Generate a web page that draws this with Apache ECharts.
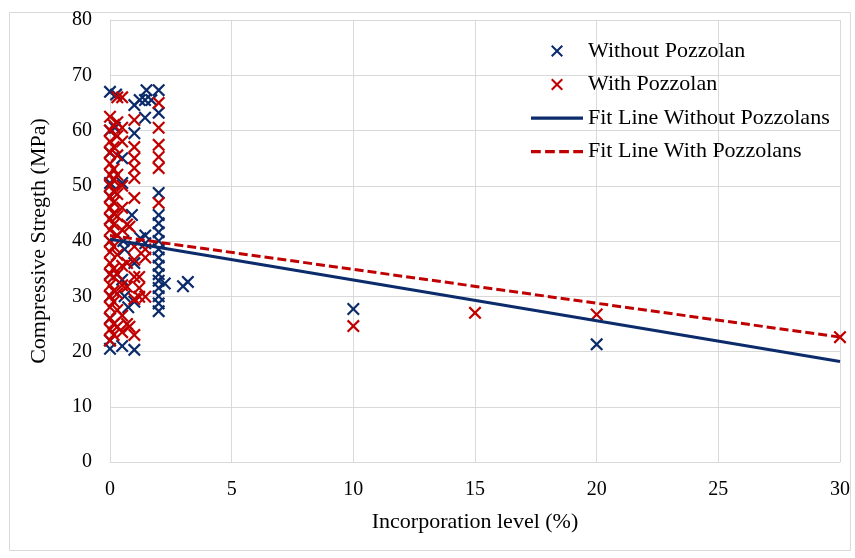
<!DOCTYPE html>
<html>
<head>
<meta charset="utf-8">
<script src="https://cdn.jsdelivr.net/npm/echarts@6/dist/echarts.min.js"></script>
<style>
html,body{margin:0;padding:0;background:#fff;}
#c{width:855px;height:558px;}
</style>
</head>
<body>
<div id="c"></div>
<script>
// Without Pozzolan points
const withoutX = [0,0,0,0,0,0,0,0,0,0,0,0,
  0.25,0.2,
  0.5,0.5,0.55,0.6,0.5,0.6,0.75,0.5,
  0.9,1,1,1,1,1,
  1.22,1.25,1.45,1.45,1.44,1.44,1.5,1.7,
  2,2,2,2,2,2,2,2,2,2,2,2,2,2,2,2,
  2.25,3.0,3.2,
  10,20];
const withoutY = [20.5,22,26,30,34,40,44,48,50.5,56,60,67,
  66.5,60.5,
  55,50.5,40,38.5,33,30,28,21,
  44.7,59.5,64.6,20.3,36,29,
  65.5,40.5,41,39.6,65.5,62.3,67.3,65.5,
  67.3,63.2,48.7,44.7,43.2,41.6,40,38.5,37,35.5,34,32.8,31.5,30,28.7,27.3,
  32.3,31.8,32.6,
  27.7,21.3];

// With Pozzolan points
const withX = [0,0,0,0,0,0,0,0,0,0,0,0,0,0,0,0,0,0,0,0,0,
  0.15,0.15,0.15,0.15,0.15,0.15,0.15,0.15,0.15,0.15,0.15,0.15,0.15,0.15,0.15,
  0.3,0.3,0.3,0.3,0.3,0.3,0.3,0.3,0.3,0.3,0.3,0.3,0.3,
  0.5,0.5,0.5,0.5,0.5,0.5,0.5,0.5,0.5,0.5,
  0.7,0.7,0.7,0.7,
  0.8,0.8,
  1,1,1,1,1,1,1,1,1,1,1,
  1.2,1.2,1.2,
  1.45,1.45,1.45,
  2,2,2,2,2,2,
  10,15,20,30];
const withY = [22,24,26,28,30,32,34,36,38,40,42,44,46,48,50,52,54,56,58,60,62.5,
  23,25,29,31,33.5,35,39,43,45,47,49,51,53,57,61,
  24.5,27.5,30.5,34,37.5,41,44.5,48.5,52,55.5,59,61.5,66,
  23.5,26.5,32,35.5,42,46,50,58,60.5,66,
  25,31.7,36,43,
  24.5,42.6,
  23,29.5,33.5,36.6,39,47.8,51.4,53.2,55,57,61.9,
  29.9,31.5,33.5,
  29.9,37,38.5,
  46.9,53.2,55.2,57.4,60.5,65,
  24.6,27,26.7,22.6];

// Fit lines (end points)
const fitWithoutX = [0, 30];
const fitWithoutY = [40.3, 18.2];
const fitWithX = [0, 30];
const fitWithY = [41.0, 22.6];

const xTicks = {min: 0, max: 30, interval: 5};
const yTicks = {min: 0, max: 80, interval: 10};

const BLUE = '#0b2b6b';
const RED = '#c00000';
const XPATH = 'path://M0,12L12,0L50,38L88,0L100,12L62,50L100,88L88,100L50,62L12,100L0,88L38,50Z';
const SOLID_ICON = 'path://M0,0H48V3H0Z';
const DASH_ICON = 'path://M0,0H9V3H0ZM13,0H22V3H13ZM26,0H35V3H26ZM39,0H48V3H39Z';
const FONT = '"Liberation Serif","Times New Roman",serif';

const zip = (a, b) => a.map((v, i) => [v, b[i]]);

const chart = echarts.init(document.getElementById('c'), null, {renderer: 'canvas'});
chart.setOption({
  animation: false,
  backgroundColor: '#fff',
  textStyle: {fontFamily: FONT},
  graphic: [{
    type: 'rect', left: 7, top: 10, z: -10, silent: true,
    shape: {x: 0, y: 0, width: 841, height: 538},
    style: {fill: 'none', stroke: '#d9d9d9', lineWidth: 1}
  }],
  grid: {left: 110, right: 15, top: 20, bottom: 96, containLabel: false},
  legend: {
    orient: 'vertical',
    left: 526, top: 35,
    itemWidth: 52, itemHeight: 12,
    itemGap: 11.5,
    symbolKeepAspect: true,
    textStyle: {fontFamily: FONT, fontSize: 22, color: '#000', lineHeight: 22},
    data: [
      {name: 'Without Pozzolan', icon: XPATH},
      {name: 'With Pozzolan', icon: XPATH},
      {name: 'Fit Line Without Pozzolans', icon: SOLID_ICON},
      {name: 'Fit Line With Pozzolans', icon: DASH_ICON}
    ]
  },
  xAxis: {
    type: 'value', min: xTicks.min, max: xTicks.max, interval: xTicks.interval,
    name: 'Incorporation level (%)', nameLocation: 'middle', nameGap: 49,
    nameTextStyle: {fontFamily: FONT, fontSize: 22, color: '#000'},
    axisLine: {show: true, lineStyle: {color: '#d9d9d9', width: 1}},
    axisTick: {show: false},
    axisLabel: {fontFamily: FONT, fontSize: 20, color: '#000', margin: 18},
    splitLine: {show: true, lineStyle: {color: '#d9d9d9', width: 1}}
  },
  yAxis: {
    type: 'value', min: yTicks.min, max: yTicks.max, interval: yTicks.interval,
    name: 'Compressive Stregth (MPa)', nameLocation: 'middle', nameGap: 60,
    nameTextStyle: {fontFamily: FONT, fontSize: 22, color: '#000'},
    axisLine: {show: true, lineStyle: {color: '#d9d9d9', width: 1}},
    axisTick: {show: false},
    axisLabel: {fontFamily: FONT, fontSize: 20, color: '#000', margin: 18},
    splitLine: {show: true, lineStyle: {color: '#d9d9d9', width: 1}}
  },
  series: [
    {
      name: 'Without Pozzolan', type: 'scatter', symbol: XPATH, symbolSize: 13,
      itemStyle: {color: BLUE, opacity: 1}, z: 2,
      data: zip(withoutX, withoutY)
    },
    {
      name: 'With Pozzolan', type: 'scatter', symbol: XPATH, symbolSize: 13,
      itemStyle: {color: RED, opacity: 1}, z: 3,
      data: zip(withX, withY)
    },
    {
      name: 'Fit Line Without Pozzolans', type: 'line', symbol: 'none', z: 4,
      lineStyle: {color: BLUE, width: 3, type: 'solid'},
      itemStyle: {color: BLUE},
      data: zip(fitWithoutX, fitWithoutY)
    },
    {
      name: 'Fit Line With Pozzolans', type: 'line', symbol: 'none', z: 5,
      lineStyle: {color: RED, width: 3, type: [9, 4]},
      itemStyle: {color: RED},
      data: zip(fitWithX, fitWithY)
    }
  ]
});
</script>
</body>
</html>
